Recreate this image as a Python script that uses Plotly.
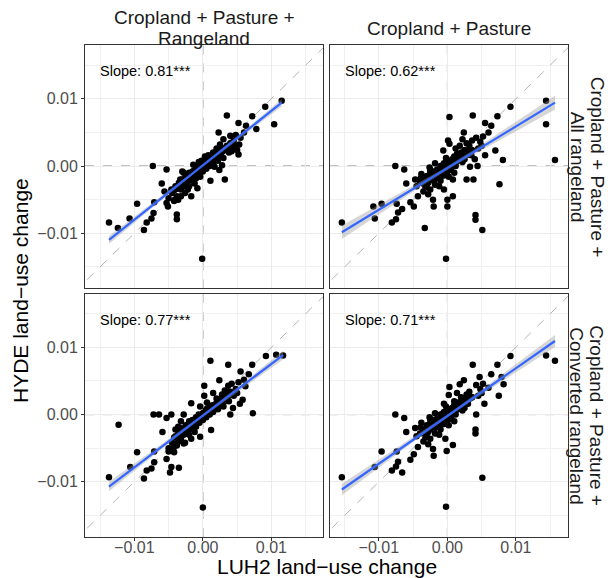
import numpy as np
import plotly.graph_objects as go
from plotly.subplots import make_subplots

# facet labels (one entry per text line)
col_labels = [["Cropland + Pasture +", "Rangeland"], ["Cropland + Pasture"]]
row_labels = [["Cropland + Pasture +", "All rangeland"], ["Cropland + Pasture +", "Converted rangeland"]]

# fitted slopes (shown in panels) and estimated intercepts, [row][col]
slopes = [[0.81, 0.62], [0.77, 0.71]]
intercepts = [[0.0001, -0.0003], [-0.00015, -0.0002]]
# rough count of grid cells behind each panel (most hide in the dense core)
n_obs = [[420, 420], [420, 420]]

# points, (LUH2, HYDE) in units of 0.001
pts_r1c1 = [
    (11.5, 9.7), (9.1, 8.8), (10.4, 6.2), (3.5, 7.5), (5.2, 6.4), (6.3, 6.0), (7.2, 7.4), (7.8, 5.5),
    (2.3, 5.0), (-7.3, 0.0), (-5.3, -0.5), (-6.0, -2.6), (3.2, -2.0), (1.1, -2.2), (-0.8, -3.3),
    (-9.6, -5.6), (-13.7, -8.4), (-12.4, -9.2), (-10.7, -7.8), (-8.2, -8.4), (-8.6, -9.5), (-7.5, -7.8),
    (-7.2, -7.0), (-7.1, -5.4), (-3.8, -7.2), (-3.8, -7.9), (-0.1, -13.8), (5.2, 1.7), (5.3, 3.2),
    (2.8, 0.1), (1.7, -0.1), (2.4, -0.6), (-5.3, -5.5), (-5.6, -3.8), (-4.6, -3.5), (-5.1, -6.0),
    (-4.1, -5.0), (-3.2, -4.5), (-2.2, -3.5), (-1.7, -4.5),
    (4.0, 4.5), (4.5, 3.8), (4.8, 4.6), (5.5, 4.2), (6.0, 5.0), (3.0, 4.0), (3.6, 2.6), (4.2, 2.2),
    (4.6, 2.8), (5.0, 2.4), (2.5, 3.2), (2.0, 2.6), (1.5, 2.0), (0.8, 1.6), (0.5, 1.0),
    (-4.5, -4.0), (-4.0, -3.0), (-3.8, -4.5), (-3.5, -2.5), (-3.2, -3.5), (-3.0, -2.0), (-2.8, -3.0),
    (-2.5, -1.5), (-2.5, -2.8), (-2.2, -2.2), (-2.0, -1.0), (-2.0, -3.0), (-1.8, -1.6), (-1.5, -0.8),
    (-1.5, -2.2), (-1.2, -1.2), (-1.0, -0.4), (-1.0, -1.8), (-0.8, -0.8), (-0.6, 0.0), (-0.5, -1.2),
    (-0.3, -0.4), (0.0, 0.2), (0.0, -0.8), (0.2, 0.0), (0.4, 0.6), (0.5, -0.4), (0.7, 0.4), (0.9, 1.0),
    (1.0, 0.0), (1.2, 0.8), (1.4, 1.4), (1.5, 0.4), (1.8, 1.2), (2.0, 1.8), (2.2, 0.8), (2.4, 2.2),
    (2.6, 1.6), (2.8, 2.6), (3.0, 1.2), (3.2, 2.4), (3.5, 3.0), (3.8, 2.0), (4.0, 3.4), (4.2, 2.6),
    (4.5, 3.2), (-5.0, -4.8), (-4.2, -5.2), (-3.6, -5.0), (-2.6, -4.0), (-1.2, -2.6), (-0.4, -1.6),
    (0.3, 1.4), (-0.2, 0.8), (-1.4, 0.2), (-2.8, -1.0), (-3.0, -0.8), (-0.6, 0.6),
]
core_r1c1 = [
    (-3.9, -3.4), (-3.4, -2.9), (-3.1, -2.6), (-2.9, -2.4), (-2.7, -2.0), (-2.4, -2.0), (-2.3, -1.8),
    (-2.1, -1.6), (-1.9, -1.2), (-1.7, -1.4), (-1.6, -1.1), (-1.4, -1.0), (-1.3, -0.7), (-1.1, -0.9),
    (-0.9, -0.6), (-0.7, -0.3), (-0.6, -0.6), (-0.4, -0.1), (-0.2, -0.2), (-0.1, 0.1), (0.1, 0.3),
    (0.3, 0.2), (0.5, 0.5), (0.6, 0.3), (0.8, 0.7), (1.1, 0.9), (1.3, 1.1), (1.6, 1.2), (1.9, 1.5),
    (2.1, 1.4), (2.3, 1.9), (2.7, 2.0), (2.9, 2.2), (3.3, 2.7), (3.6, 2.9), (-3.6, -3.2), (-4.2, -3.6),
    (-2.0, -2.0), (-1.0, -1.2), (0.0, -0.3), (1.0, 0.6), (2.0, 1.0), (-3.3, -2.0), (-2.6, -2.4),
    (-0.5, -0.6), (0.6, 0.9),
]
pts_r1c2 = [
    (14.4, 9.7), (14.4, 6.2), (15.7, 0.9), (9.2, 8.8), (3.7, 7.5), (5.5, 6.4), (6.4, 6.0), (7.3, 7.4),
    (6.0, 5.0), (2.4, 5.0), (0.3, 7.3), (0.1, 3.8), (7.0, 2.3), (8.1, 0.9), (5.5, 1.6), (7.6, -2.7),
    (3.8, -2.0), (2.8, -2.0), (4.4, 0.0), (3.3, -0.1), (4.1, -7.3), (4.1, -8.0), (5.1, -9.5),
    (-3.3, -9.2), (-0.2, -13.8), (-15.4, -8.4), (-10.8, -6.0), (-10.6, -7.8), (-9.6, -5.6),
    (-8.1, -8.4), (-7.5, -7.9), (-7.2, -6.9), (-7.4, -5.6), (-6.6, -6.4), (-7.6, 0.0), (-6.3, -0.5),
    (-6.0, -2.6), (-4.7, -2.0), (-5.4, -5.4), (-4.9, -6.0), (-4.3, -4.5), (-2.0, -6.0), (-2.1, -5.0),
    (0.0, -5.0), (0.0, -6.0), (0.8, -4.5), (-0.5, -3.5), (0.8, -2.0), (0.3, 3.3), (-0.6, 2.3),
    (4.2, 4.2), (4.8, 3.6), (5.2, 4.4), (3.2, 3.0), (3.6, 3.8), (2.8, 3.4), (4.5, 2.6), (5.0, 3.0),
    (3.0, 2.2), (1.8, 3.0), (2.2, 4.0), (1.2, 2.6), (4.0, 1.0), (3.5, 1.6), (2.5, 1.0),
    (-4.0, -2.5), (-3.5, -2.0), (-3.2, -3.2), (-3.0, -1.5), (-2.8, -2.5), (-2.5, -1.0), (-2.5, -3.5),
    (-2.2, -2.0), (-2.0, -0.8), (-2.0, -1.5), (-1.8, -2.8), (-1.5, -0.5), (-1.5, -1.8), (-1.2, -1.0),
    (-1.0, 0.0), (-1.0, -2.2), (-0.8, -0.6), (-0.6, 0.2), (-0.5, -1.4), (-0.3, 0.0), (0.0, 0.4),
    (0.0, -0.8), (0.2, 0.8), (0.4, 0.2), (0.5, -0.6), (0.7, 1.0), (0.9, 0.4), (1.0, 1.4), (1.2, 0.0),
    (1.4, 1.8), (1.5, 0.8), (1.8, 1.4), (2.0, 2.0), (2.2, 0.6), (2.5, 2.4), (2.8, 1.6), (-1.8, 0.4),
    (-2.6, -0.2), (-3.8, -1.2), (-1.2, -3.0), (0.2, -1.6), (1.0, -1.0), (-0.2, 1.2), (-3.5, -3.8),
    (-4.5, -3.0), (-2.8, -4.2),
]
core_r1c2 = [
    (-3.6, -2.6), (-3.3, -2.2), (-3.0, -2.0), (-2.8, -1.8), (-2.6, -1.6), (-2.4, -1.4), (-2.3, -1.9),
    (-2.1, -1.2), (-1.9, -1.0), (-1.7, -1.3), (-1.6, -0.8), (-1.4, -1.2), (-1.3, -0.6), (-1.1, -0.5),
    (-0.9, -0.9), (-0.7, -0.3), (-0.6, -0.5), (-0.4, -0.2), (-0.2, -0.4), (-0.1, 0.1), (0.1, 0.0),
    (0.3, 0.4), (0.5, 0.3), (0.6, 0.6), (0.8, 0.5), (1.1, 0.8), (1.3, 0.6), (1.6, 1.1), (1.9, 1.0),
    (2.1, 1.5), (2.3, 1.2), (2.7, 1.8), (2.9, 2.0), (3.3, 2.2), (3.6, 2.4), (-3.0, -2.8), (-2.0, -2.2),
    (-1.0, -1.6), (0.0, -0.2), (1.0, 0.2), (2.0, 1.2), (-3.9, -1.8), (-2.5, -0.6), (-0.5, 0.4),
    (0.6, -0.2), (1.5, 1.6),
]
pts_r2c1 = [
    (11.7, 8.8), (10.7, 8.9), (9.2, 8.7), (7.2, 7.4), (5.5, 6.4), (6.7, 6.0), (1.1, 8.0), (3.7, 7.4),
    (2.4, 5.1), (0.2, 4.3), (0.2, 2.8), (-1.7, 1.7), (3.7, 4.3), (5.4, 1.6), (7.3, 0.2), (4.0, 0.0),
    (1.2, -2.3), (-0.4, -3.3), (-7.2, 0.0), (-6.4, 0.0), (-5.3, -0.5), (-4.6, 0.0), (-12.3, -1.5),
    (-5.9, -2.6), (-9.6, -5.6), (-10.6, -7.8), (-13.7, -9.3), (-8.6, -9.5), (-8.2, -8.3), (-7.5, -8.0),
    (-7.1, -7.1), (-7.1, -5.5), (-5.3, -6.6), (-4.8, -8.6), (-4.6, -7.8), (-3.5, -7.9), (-5.0, -5.5),
    (-4.3, -5.0), (-2.8, -4.3), (-1.7, -3.6), (0.0, -13.8),
    (4.2, 4.6), (4.8, 3.8), (5.2, 4.8), (6.0, 5.2), (3.2, 3.6), (3.6, 2.6), (4.5, 2.8), (5.0, 3.2),
    (2.8, 3.0), (2.0, 2.4), (1.5, 3.2), (6.2, 4.2), (5.8, 2.2), (4.4, 1.0),
    (-4.5, -4.2), (-4.0, -3.2), (-3.8, -4.6), (-3.5, -2.6), (-3.2, -3.6), (-3.0, -2.2), (-2.8, -3.0),
    (-2.5, -1.6), (-2.5, -2.8), (-2.2, -2.2), (-2.0, -1.0), (-2.0, -3.0), (-1.8, -1.6), (-1.5, -0.8),
    (-1.5, -2.2), (-1.2, -1.2), (-1.0, -0.4), (-1.0, -1.8), (-0.8, -0.8), (-0.6, 0.0), (-0.5, -1.2),
    (-0.3, -0.4), (0.0, 0.2), (0.0, -0.8), (0.2, 0.0), (0.4, 0.6), (0.5, -0.4), (0.7, 0.4), (0.9, 1.0),
    (1.0, 0.0), (1.2, 0.8), (1.4, 1.4), (1.5, 0.4), (1.8, 1.2), (2.0, 1.8), (2.2, 0.8), (2.4, 2.2),
    (2.6, 1.6), (2.8, 2.4), (3.0, 1.2), (3.2, 2.0), (3.5, 3.0), (3.8, 2.0), (4.0, 3.4), (-5.0, -5.0),
    (-4.2, -5.6), (-3.6, -4.0), (-2.6, -4.2), (-1.2, -2.6), (-3.2, -1.0), (-2.8, 0.0), (-3.6, -1.8),
    (-4.0, -2.2), (-0.4, 1.2), (0.6, 1.8),
]
core_r2c1 = [
    (-3.9, -3.3), (-3.4, -2.8), (-3.1, -2.5), (-2.9, -2.3), (-2.7, -2.1), (-2.4, -1.9), (-2.3, -1.7),
    (-2.1, -1.5), (-1.9, -1.3), (-1.7, -1.4), (-1.6, -1.0), (-1.4, -1.1), (-1.3, -0.8), (-1.1, -0.9),
    (-0.9, -0.6), (-0.7, -0.4), (-0.6, -0.6), (-0.4, -0.2), (-0.2, -0.2), (-0.1, 0.0), (0.1, 0.2),
    (0.3, 0.2), (0.5, 0.4), (0.6, 0.3), (0.8, 0.6), (1.1, 0.8), (1.3, 1.0), (1.6, 1.2), (1.9, 1.4),
    (2.1, 1.5), (2.3, 1.8), (2.7, 2.0), (2.9, 2.1), (3.3, 2.6), (3.6, 2.8), (-3.6, -3.0), (-4.2, -3.4),
    (-2.0, -2.2), (-1.0, -1.3), (0.0, -0.4), (1.0, 0.5), (2.0, 1.1), (-3.3, -2.0), (-2.6, -2.5),
    (-0.5, -0.7), (0.6, 0.9),
]
pts_r2c2 = [
    (14.4, 8.8), (15.7, 8.0), (9.2, 8.7), (3.7, 7.4), (7.3, 7.4), (6.4, 6.0), (4.7, 5.6), (7.9, 5.6),
    (8.2, 4.5), (7.5, 2.8), (5.4, 1.6), (2.4, 5.1), (1.8, 4.5), (0.3, 4.1), (0.2, 2.9), (-0.5, 1.6),
    (4.2, 0.0), (4.1, -2.2), (4.1, -2.8), (5.1, -9.4), (0.8, -4.5), (-0.1, -5.4), (-0.2, -13.7),
    (-15.4, -9.3), (-10.6, -7.8), (-9.6, -5.5), (-8.1, -8.3), (-7.5, -7.7), (-7.2, -7.0), (-7.4, -5.5),
    (-6.6, -8.6), (-5.4, -6.7), (-7.6, 0.0), (-6.3, -0.5), (-6.0, -2.6), (-4.7, -2.0), (-4.9, -5.9),
    (-4.3, -4.8), (-2.0, -6.1), (-2.1, -5.1), (-0.3, -3.6),
    (4.2, 4.4), (4.8, 3.8), (5.2, 4.6), (6.0, 4.0), (3.2, 3.4), (3.6, 2.6), (4.5, 2.8), (5.0, 3.2),
    (2.8, 3.0), (2.0, 2.6), (1.4, 3.2), (3.0, 1.6), (2.5, 1.0), (1.0, 2.0),
    (-4.0, -2.8), (-3.5, -2.2), (-3.2, -3.4), (-3.0, -1.6), (-2.8, -2.6), (-2.5, -1.2), (-2.5, -3.6),
    (-2.2, -2.0), (-2.0, -0.8), (-2.0, -1.6), (-1.8, -2.8), (-1.5, -0.6), (-1.5, -1.8), (-1.2, -1.0),
    (-1.0, 0.0), (-1.0, -2.2), (-0.8, -0.6), (-0.6, 0.2), (-0.5, -1.4), (-0.3, 0.0), (0.0, 0.4),
    (0.0, -0.8), (0.2, 0.8), (0.4, 0.2), (0.5, -0.6), (0.7, 1.0), (0.9, 0.4), (1.0, 1.4), (1.2, 0.0),
    (1.4, 1.8), (1.5, 0.8), (1.8, 1.4), (2.0, 2.0), (2.2, 0.6), (2.5, 2.4), (2.8, 1.6), (-1.8, 0.2),
    (-2.6, -0.4), (-3.8, -1.2), (-1.2, -3.0), (0.2, -1.6), (1.0, -1.0), (-0.2, 1.2), (-3.5, -4.0),
    (-4.5, -3.2), (-2.8, -4.4),
]
core_r2c2 = [
    (-3.6, -2.7), (-3.3, -2.4), (-3.0, -2.1), (-2.8, -1.9), (-2.6, -1.7), (-2.4, -1.5), (-2.3, -2.0),
    (-2.1, -1.3), (-1.9, -1.1), (-1.7, -1.4), (-1.6, -0.9), (-1.4, -1.2), (-1.3, -0.7), (-1.1, -0.6),
    (-0.9, -0.9), (-0.7, -0.4), (-0.6, -0.5), (-0.4, -0.2), (-0.2, -0.4), (-0.1, 0.1), (0.1, 0.0),
    (0.3, 0.4), (0.5, 0.3), (0.6, 0.6), (0.8, 0.5), (1.1, 0.9), (1.3, 0.7), (1.6, 1.2), (1.9, 1.1),
    (2.1, 1.6), (2.3, 1.3), (2.7, 2.0), (2.9, 2.1), (3.3, 2.4), (3.6, 2.6), (-3.0, -2.9), (-2.0, -2.3),
    (-1.0, -1.6), (0.0, -0.2), (1.0, 0.3), (2.0, 1.3), (-3.9, -1.9), (-2.5, -0.7), (-0.5, 0.4),
    (0.6, -0.2), (1.5, 1.7),
]
panels = [[pts_r1c1 + core_r1c1, pts_r1c2 + core_r1c2],
          [pts_r2c1 + core_r2c1, pts_r2c2 + core_r2c2]]

FONT = "Liberation Sans, Arial, Helvetica, sans-serif"
x_range = [-0.0172, 0.0176]
y_range = [-0.0182, 0.0180]

fig = make_subplots(rows=2, cols=2, shared_xaxes=True, shared_yaxes=True,
                    horizontal_spacing=0.0125, vertical_spacing=0.0105)

for r in range(2):
    for c in range(2):
        pts = np.array(panels[r][c]) / 1000.0
        x, y = pts[:, 0], pts[:, 1]
        # 1:1 line
        fig.add_trace(go.Scatter(x=[-0.03, 0.03], y=[-0.03, 0.03], mode="lines",
                                 line=dict(color="#b3b3b3", width=1, dash="dash"),
                                 hoverinfo="skip", showlegend=False), row=r + 1, col=c + 1)
        fig.add_trace(go.Scatter(x=x, y=y, mode="markers",
                                 marker=dict(color="black", size=6.5),
                                 showlegend=False), row=r + 1, col=c + 1)
        # lm line + 95% band
        b, a = slopes[r][c], intercepts[r][c]
        xs = np.linspace(x.min(), x.max(), 80)
        ys = a + b * xs
        n = n_obs[r][c]
        res = y - (a + b * x)
        s = np.sqrt((res ** 2).mean())
        se = s * np.sqrt(1 / n + (xs - x.mean()) ** 2 / (n * x.var()))
        hw = 1.97 * se
        fig.add_trace(go.Scatter(x=np.concatenate([xs, xs[::-1]]),
                                 y=np.concatenate([ys + hw, (ys - hw)[::-1]]),
                                 fill="toself", fillcolor="rgba(153,153,153,0.4)",
                                 line=dict(width=0), hoverinfo="skip", showlegend=False),
                      row=r + 1, col=c + 1)
        fig.add_trace(go.Scatter(x=xs, y=ys, mode="lines",
                                 line=dict(color="#3366FF", width=2.2),
                                 showlegend=False), row=r + 1, col=c + 1)

        k = r * 2 + c + 1
        xa = "x" if k == 1 else f"x{k}"
        ya = "y" if k == 1 else f"y{k}"
        fig.add_shape(type="line", xref=xa, yref=f"{ya} domain", x0=0, x1=0, y0=0, y1=1,
                      line=dict(color="#7a7a7a", width=1, dash="dash"), layer="below")
        fig.add_shape(type="line", xref=f"{xa} domain", yref=ya, x0=0, x1=1, y0=0, y1=0,
                      line=dict(color="#7a7a7a", width=1, dash="dash"), layer="below")
        fig.add_annotation(xref=xa, yref=ya, x=-0.0153, y=0.0141, xanchor="left", yanchor="middle",
                           text=f"Slope: {slopes[r][c]:.2f}***", showarrow=False,
                           font=dict(family=FONT, size=14.5, color="black"))

# strip labels, one annotation per line
strip_font = dict(family=FONT, size=19, color="#1a1a1a")
for c in range(2):
    xa = "x" if c == 0 else "x2"
    lines = col_labels[c]
    shifts = [28, 7] if len(lines) == 2 else [17]
    for txt, sh in zip(lines, shifts):
        fig.add_annotation(xref=f"{xa} domain", yref="paper", x=0.5, y=1, yanchor="middle",
                           yshift=sh, text=txt, showarrow=False, font=strip_font)
for r in range(2):
    ya = "y" if r == 0 else "y3"
    for txt, sh in zip(row_labels[r], [29, 9]):
        fig.add_annotation(xref="paper", yref=f"{ya} domain", x=1, y=0.5, xanchor="center",
                           xshift=sh, textangle=90, text=txt, showarrow=False, font=strip_font)

# axis titles
fig.add_annotation(xref="paper", yref="paper", x=0.5, y=0, yanchor="middle", yshift=-29,
                   text="LUH2 land\u2212use change", showarrow=False,
                   font=dict(family=FONT, size=21, color="black"))
fig.add_annotation(xref="paper", yref="paper", x=0, y=0.5, xanchor="center", xshift=-65,
                   textangle=-90, text="HYDE land\u2212use change", showarrow=False,
                   font=dict(family=FONT, size=21, color="black"))

axis_common = dict(showgrid=True, gridcolor="#ebebeb", gridwidth=1,
                   minor=dict(dtick=0.005, tick0=0, showgrid=True, gridcolor="#f0f0f0", gridwidth=0.6),
                   dtick=0.01, tick0=0, tickformat=".2f", zeroline=False,
                   showline=True, mirror=True, linecolor="#333333", linewidth=1,
                   tickfont=dict(family=FONT, size=16, color="#4d4d4d"),
                   tickcolor="#333333", ticklen=3)
fig.update_xaxes(range=x_range, ticklabelstandoff=-7, **axis_common)
fig.update_yaxes(range=y_range, **axis_common)
fig.update_xaxes(ticks="outside", row=2)
fig.update_yaxes(ticks="outside", col=1)

fig.update_layout(width=608, height=578, plot_bgcolor="white", paper_bgcolor="white",
                  margin=dict(l=85, r=40, t=45, b=41), showlegend=False,
                  font=dict(family=FONT))
# drop the page's default 8px body margin so the figure sits at the window corner
fig.write_html("out.html", config={"displayModeBar": False},
               post_script="document.body.style.margin='0';")
